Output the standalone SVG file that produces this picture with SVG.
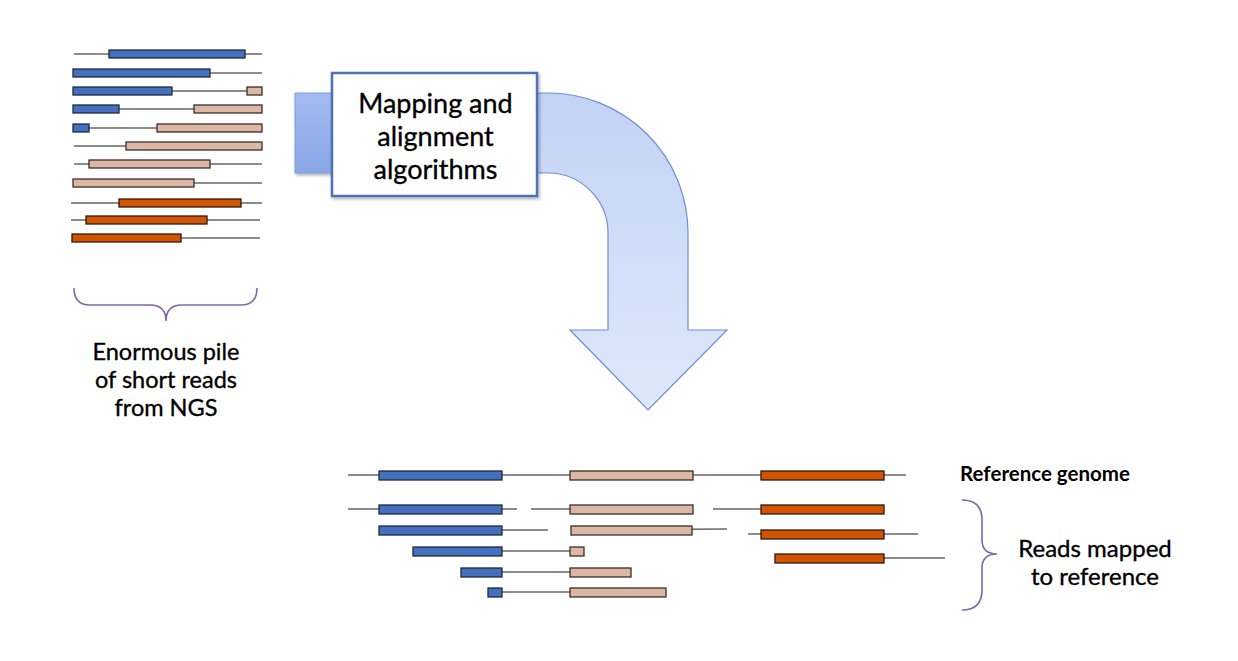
<svg xmlns="http://www.w3.org/2000/svg" width="1238" height="661" viewBox="0 0 1238 661">
<defs>
<linearGradient id="arrowGrad" x1="0" y1="0" x2="0" y2="1">
<stop offset="0" stop-color="#C3D3F5"/>
<stop offset="1" stop-color="#DFE7FA"/>
</linearGradient>
<linearGradient id="tailGrad" x1="0" y1="0" x2="0" y2="1">
<stop offset="0" stop-color="#A3BBF0"/>
<stop offset="1" stop-color="#8AA6E6"/>
</linearGradient>
<filter id="shadow" x="-10%" y="-10%" width="130%" height="130%">
<feDropShadow dx="1.5" dy="2" stdDeviation="1.5" flood-color="#000" flood-opacity="0.3"/>
</filter>
</defs>
<style>
.ln{stroke:#666;stroke-width:1.6;fill:none}
.b{fill:#4470BF;stroke:#1f2a3a;stroke-width:1.3}
.p{fill:#DDB6A4;stroke:#3a2f2a;stroke-width:1.3}
.o{fill:#D35400;stroke:#2b1a10;stroke-width:1.3}
.brace{fill:none;stroke:#7D69A8;stroke-width:1.6}
.lbl{font-family:Lato,"Open Sans",sans-serif;fill:#000;stroke:#000;stroke-width:0.35;text-anchor:middle}
</style>
<rect width="1238" height="661" fill="#fff"/>

<g id="short-reads">
<line class="ln" x1="74" y1="54" x2="262" y2="54"/><rect class="b" x="109" y="50" width="136" height="8"/>
<line class="ln" x1="73" y1="73" x2="262" y2="73"/><rect class="b" x="73" y="69" width="137" height="8"/>
<line class="ln" x1="73" y1="91" x2="262" y2="91"/><rect class="b" x="73" y="87" width="99" height="8"/><rect class="p" x="247" y="87" width="15" height="8"/>
<line class="ln" x1="73" y1="109" x2="262" y2="109"/><rect class="b" x="73" y="105" width="46" height="8"/><rect class="p" x="194" y="105" width="68" height="8"/>
<line class="ln" x1="73" y1="128" x2="262" y2="128"/><rect class="b" x="73" y="124" width="16" height="8"/><rect class="p" x="157" y="124" width="105" height="8"/>
<line class="ln" x1="74" y1="146" x2="262" y2="146"/><rect class="p" x="126" y="142" width="136" height="8"/>
<line class="ln" x1="74" y1="164" x2="262" y2="164"/><rect class="p" x="89" y="160" width="121" height="8"/>
<line class="ln" x1="73" y1="183" x2="262" y2="183"/><rect class="p" x="73" y="179" width="121" height="8"/>
<line class="ln" x1="71" y1="203" x2="262" y2="203"/><rect class="o" x="119" y="199" width="122" height="8"/>
<line class="ln" x1="71" y1="220" x2="260" y2="220"/><rect class="o" x="86" y="216" width="121" height="8"/>
<line class="ln" x1="72" y1="238" x2="260" y2="238"/><rect class="o" x="72" y="234" width="109" height="8"/>
</g>

<g id="pile-brace">
<path class="brace" d="M74,288 Q74,305 90,305 L150,305 Q166,305 166,321 Q166,305 182,305 L241,305 Q257,305 257,288"/>
</g>
<g id="pile-label">
<text class="lbl" x="166" y="360" font-size="23.5">Enormous pile</text>
<text class="lbl" x="166" y="388" font-size="23.5">of short reads</text>
<text class="lbl" x="166" y="416" font-size="23.5">from NGS</text>
</g>

<g id="connectors">
<rect x="295" y="93" width="45" height="80" fill="url(#tailGrad)" stroke="#7E9BDC" stroke-width="1" filter="url(#shadow)"/>
<path d="M520,93 L548,93 A140,140 0 0 1 688,233 L688,330 L727,330 L648,410 L570,330 L608,330 L608,233 A60,60 0 0 0 548,173 L520,173 Z" fill="url(#arrowGrad)" stroke="#6F8FD2" stroke-width="1.2"/>
</g>

<g id="algorithm-box">
<rect x="332" y="73" width="205" height="123" fill="#fff" stroke="#4F71B8" stroke-width="2.5" filter="url(#shadow)"/>
<text class="lbl" x="435.5" y="113" font-size="27">Mapping and</text>
<text class="lbl" x="435.5" y="146" font-size="27">alignment</text>
<text class="lbl" x="435.5" y="179" font-size="27">algorithms</text>
</g>

<g id="reference-genome">
<line class="ln" x1="348" y1="475" x2="906" y2="475"/>
<rect class="b" x="379" y="471" width="123" height="9"/>
<rect class="p" x="570" y="471" width="123" height="9"/>
<rect class="o" x="761" y="471" width="123" height="9"/>
<text x="1045" y="481" font-family="Lato,'Open Sans',sans-serif" font-weight="bold" font-size="20.5" text-anchor="middle" fill="#000">Reference genome</text>
</g>

<g id="mapped-reads">
<line class="ln" x1="348" y1="509" x2="517" y2="509"/><line class="ln" x1="531" y1="509" x2="693" y2="509"/><line class="ln" x1="713" y1="509" x2="761" y2="509"/>
<rect class="b" x="379" y="505" width="123" height="9"/><rect class="p" x="570" y="505" width="123" height="9"/><rect class="o" x="761" y="505" width="123" height="9"/>
<line class="ln" x1="379" y1="530" x2="548" y2="530"/><line class="ln" x1="571" y1="530" x2="727" y2="529"/>
<rect class="b" x="379" y="526" width="123" height="9"/><rect class="p" x="571" y="526" width="121" height="9"/>
<line class="ln" x1="748" y1="534" x2="918" y2="534"/><rect class="o" x="761" y="530" width="123" height="9"/>
<line class="ln" x1="413" y1="551" x2="584" y2="551"/><rect class="b" x="413" y="547" width="89" height="9"/><rect class="p" x="570" y="547" width="14" height="9"/>
<line class="ln" x1="775" y1="558" x2="945" y2="558"/><rect class="o" x="775" y="554" width="109" height="9"/>
<line class="ln" x1="461" y1="572" x2="631" y2="572"/><rect class="b" x="461" y="568" width="41" height="9"/><rect class="p" x="570" y="568" width="61" height="9"/>
<line class="ln" x1="488" y1="592" x2="666" y2="592"/><rect class="b" x="488" y="588" width="14" height="9"/><rect class="p" x="570" y="588" width="96" height="9"/>
</g>

<g id="mapped-brace">
<path class="brace" d="M962,500 Q982,500 982,520 L982,540 Q982,554 997,554 Q982,554 982,568 L982,590 Q982,610 962,610"/>
</g>
<g id="mapped-label">
<text class="lbl" x="1095" y="557" font-size="24">Reads mapped</text>
<text class="lbl" x="1095" y="585" font-size="24">to reference</text>
</g>
</svg>
